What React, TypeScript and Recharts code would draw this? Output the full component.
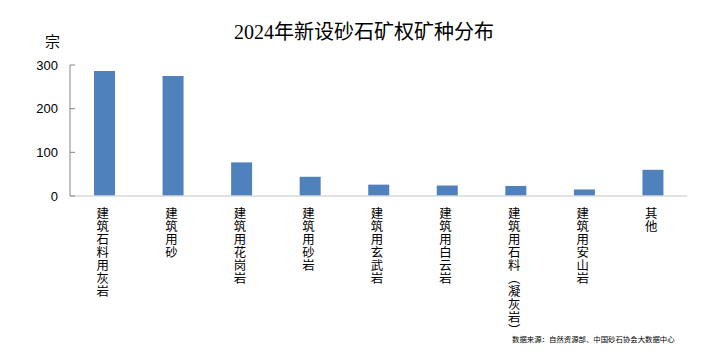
import React from 'react';
import { BarChart, Bar, XAxis, YAxis } from 'recharts';

const categories: string[] = [
  '建筑石料用灰岩',
  '建筑用砂',
  '建筑用花岗岩',
  '建筑用砂岩',
  '建筑用玄武岩',
  '建筑用白云岩',
  '建筑用石料︵凝灰岩︶',
  '建筑用安山岩',
  '其他',
];
const counts: number[] = [286, 275, 77, 44, 26, 24, 23, 15, 60];
const yTicks: number[] = [0, 100, 200, 300];

const title = '2024年新设砂石矿权矿种分布';
const unit = '宗';
const source = '数据来源：自然资源部、中国砂石协会大数据中心';

const data = categories.map((name, i) => ({ name, count: counts[i] }));

const cjk = '"Noto Sans CJK SC", "Noto Sans", sans-serif';

// category names are stacked one character per line under each bar
const VerticalTick = (props: any) => {
  const { x, y, payload } = props;
  const chars: string[] = Array.from(String(payload.value));
  return (
    <text x={x - 1.5} y={y} textAnchor="middle" fontSize={12.4} fontFamily={cjk} fill="#000">
      {chars.map((c, i) => (
        <tspan key={i} x={x - 1.5} y={y + 22 + i * 13}>
          {c}
        </tspan>
      ))}
    </text>
  );
};

const YTick = (props: any) => {
  const { x, y, payload } = props;
  return (
    <g>
      <line x1={x} x2={x + 5} y1={y} y2={y} stroke="#868686" />
      <text
        x={x - 12}
        y={y}
        dy={4.5}
        textAnchor="end"
        fontSize={13}
        fontFamily='"Liberation Sans", Arial, sans-serif'
        fill="#000"
      >
        {payload.value}
      </text>
    </g>
  );
};

const App: React.FC = () => {
  return (
    <div style={{ position: 'absolute', left: 0, top: 0, width: 716, height: 362, background: '#fff' }}>
      <div
        style={{
          position: 'absolute',
          left: 0,
          width: 728,
          top: 21,
          textAlign: 'center',
          fontSize: 20,
          lineHeight: '22px',
          fontFamily: '"Liberation Serif", "Noto Sans CJK SC", serif',
          color: '#000',
        }}
      >
        {title}
      </div>
      <div
        style={{
          position: 'absolute',
          left: 45,
          top: 33,
          fontSize: 15,
          lineHeight: '16px',
          fontFamily: cjk,
          color: '#000',
        }}
      >
        {unit}
      </div>
      <div
        style={{
          position: 'absolute',
          left: 512,
          top: 334,
          fontSize: 7.4,
          lineHeight: '10px',
          fontFamily: cjk,
          color: '#000',
          whiteSpace: 'nowrap',
        }}
      >
        {source}
      </div>
      <BarChart width={716} height={362} data={data} margin={{ top: 65, right: 29, bottom: 0, left: 0 }}>
        <XAxis
          dataKey="name"
          interval={0}
          tickLine={false}
          tickSize={0}
          tickMargin={0}
          axisLine={{ stroke: '#d9d9d9', strokeWidth: 1.5 }}
          tick={<VerticalTick />}
          height={166}
        />
        <YAxis
          width={70}
          domain={[0, 300]}
          ticks={yTicks}
          tickLine={false}
          tickSize={0}
          tickMargin={0}
          axisLine={{ stroke: '#868686' }}
          tick={<YTick />}
          allowDataOverflow
        />
        <Bar dataKey="count" fill="#4f81bd" barSize={21} isAnimationActive={false} />
      </BarChart>
    </div>
  );
};

export default App;
